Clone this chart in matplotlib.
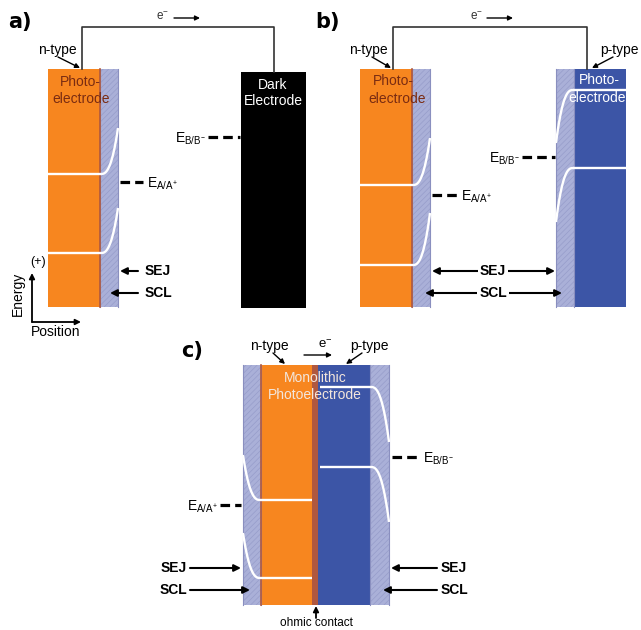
import matplotlib.pyplot as plt
from matplotlib.patches import Rectangle
import numpy as np

plt.rcParams['font.family'] = ['Liberation Sans', 'DejaVu Sans']
plt.rcParams['mathtext.fontset'] = 'custom'
plt.rcParams['mathtext.rm'] = 'Liberation Sans'
plt.rcParams['mathtext.it'] = 'Liberation Sans'
plt.rcParams['hatch.linewidth'] = 0.5

ORANGE = '#f7861f'
BLUE = '#3c55a6'
SCL_FILL = '#aab0d8'
SCL_HATCH = '#969cca'
CONTACT = '#b0583f'

# layers (x0, x1, y0, y1, kind) in picture coordinates
layers_a = [(48, 100, 69, 307, 'n'), (100, 118, 69, 307, 'scl'), (241, 306, 72, 308, 'dark')]
layers_b = [(360, 412, 69, 307, 'n'), (412, 430, 69, 307, 'scl'),
            (556, 574, 69, 307, 'scl'), (574, 626, 69, 307, 'p')]
layers_c = [(243, 261, 365, 605, 'scl'), (261, 312, 365, 605, 'n'), (312, 318, 365, 605, 'ohm'),
            (318, 370, 365, 605, 'p'), (370, 389, 365, 605, 'scl')]

# band edges: (flat start, bend start, bend end, flat level, level at surface)
bands = [(48, 101, 118, 174, 128), (48, 101, 118, 253, 208),
         (360, 413, 430, 185, 138), (360, 413, 430, 265, 213),
         (626, 573, 556, 90, 143), (626, 573, 556, 168, 222),
         (312, 260, 243, 500, 455), (312, 260, 243, 578, 533),
         (320, 371, 389, 387, 442), (320, 371, 389, 467, 522)]

# redox levels: (x0, x1, y, label, label x, align)
redox = [(120, 143, 182, r'$\mathregular{E_{A/A^{+}}}$', 147, 'left'),
         (208, 240, 137, r'$\mathregular{E_{B/B^{-}}}$', 206, 'right'),
         (432, 457, 195, r'$\mathregular{E_{A/A^{+}}}$', 461, 'left'),
         (522, 555, 157, r'$\mathregular{E_{B/B^{-}}}$', 520, 'right'),
         (392, 417, 457, r'$\mathregular{E_{B/B^{-}}}$', 423, 'left'),
         (220, 241, 505, r'$\mathregular{E_{A/A^{+}}}$', 218, 'right')]

fig = plt.figure(figsize=(6.41, 6.30), dpi=100)
ax = fig.add_axes([0, 0, 1, 1])
ax.set_xlim(0, 641)
ax.set_ylim(630, 0)
ax.axis('off')


def draw_layer(x0, x1, y0, y1, kind):
    if kind == 'scl':
        ax.add_patch(Rectangle((x0, y0), x1 - x0, y1 - y0, facecolor=SCL_FILL,
                               edgecolor=SCL_HATCH, hatch='//////', lw=0))
        ax.plot([x0, x0], [y0, y1], color='#8a8fbf', lw=0.8)
        ax.plot([x1, x1], [y0, y1], color='#8a8fbf', lw=0.8)
    else:
        col = {'n': ORANGE, 'p': BLUE, 'dark': 'black', 'ohm': CONTACT}[kind]
        ax.add_patch(Rectangle((x0, y0), x1 - x0, y1 - y0, facecolor=col, lw=0))


for lay in layers_a + layers_b + layers_c:
    draw_layer(*lay)

# brownish junction lines between orange and SCL
for x, y0, y1 in [(100, 69, 307), (412, 69, 307), (261, 365, 605)]:
    ax.plot([x, x], [y0, y1], color=CONTACT, lw=1.2)

for xf, xs, xe, yf, ye in bands:
    t = np.linspace(0, 1, 60)
    xc = xs + (xe - xs) * t
    yc = yf + (ye - yf) * t ** 2.5
    ax.plot(np.r_[xf, xc], np.r_[yf, yc], color='white', lw=1.7, solid_capstyle='butt')

for x0, x1, y, lab, lx, ha in redox:
    ax.plot([x0, x1], [y, y], color='black', lw=2.3, dashes=(3, 1.6))
    ax.text(lx, y + 2, lab, fontsize=10, ha=ha, va='center')

# external wires
for xl, xr, yl, yr in [(82, 274, 69, 72), (393, 587, 69, 69)]:
    ax.plot([xl, xl, xr, xr], [yl, 27, 27, yr], color='#333333', lw=1.2)


def arrow(x0, y0, x1, y1, style='-|>', lw=1.5, ms=10):
    ax.annotate('', xy=(x1, y1), xytext=(x0, y0),
                arrowprops=dict(arrowstyle=style, color='black', lw=lw,
                                mutation_scale=ms, shrinkA=0, shrinkB=0))


# electron flow labels
for ex, ax0, ax1, ey in [(163, 174, 200, 18), (477, 487, 513, 18)]:
    ax.text(ex, ey, r'$\mathregular{e^{-}}$', fontsize=8.5, ha='center', va='center', color='#333333')
    arrow(ax0, ey, ax1, ey, lw=1.0, ms=7)
ax.text(325, 345, r'$\mathregular{e^{-}}$', fontsize=9.5, ha='center', va='center')
arrow(304, 355, 332, 355, lw=1.0, ms=7)

# type labels
for tx, ty, lab, a0, a1 in [(57, 50, 'n-type', (58, 57), (80, 68)),
                            (368, 50, 'n-type', (372, 57), (391, 68)),
                            (619, 50, 'p-type', (613, 57), (592, 68)),
                            (269, 346, 'n-type', (273, 353), (285, 364)),
                            (369, 346, 'p-type', (362, 353), (346, 364))]:
    ax.text(tx, ty, lab, fontsize=10, ha='center', va='center')
    arrow(a0[0], a0[1], a1[0], a1[1], lw=1.0, ms=7)

# electrode names
ax.text(80, 82, 'Photo-', fontsize=10, ha='center', va='center', color='#7a2c12')
ax.text(81, 99, 'electrode', fontsize=10, ha='center', va='center', color='#7a2c12')
ax.text(393, 81, 'Photo-', fontsize=10, ha='center', va='center', color='#7a2c12')
ax.text(397, 99, 'electrode', fontsize=10, ha='center', va='center', color='#7a2c12')
ax.text(599, 80, 'Photo-', fontsize=10, ha='center', va='center', color='white')
ax.text(597, 98, 'electrode', fontsize=10, ha='center', va='center', color='white')
ax.text(273, 85, 'Dark', fontsize=10, ha='center', va='center', color='white')
ax.text(273, 101, 'Electrode', fontsize=10, ha='center', va='center', color='white')
ax.text(315, 378, 'Monolithic', fontsize=10, ha='center', va='center', color='#f3e6dc')
ax.text(315, 395, 'Photoelectrode', fontsize=10, ha='center', va='center', color='#f3e6dc')

# SEJ / SCL pointers
bold = dict(fontsize=10, fontweight='bold', va='center')
arrow(138, 271, 120, 271)
ax.text(145, 271, 'SEJ', ha='left', **bold)
arrow(138, 293, 110, 293)
ax.text(145, 293, 'SCL', ha='left', **bold)

arrow(432, 271, 555, 271, style='<|-|>')
ax.text(493, 271, 'SEJ', ha='center', bbox=dict(facecolor='white', edgecolor='none', pad=1.5), **bold)
arrow(425, 293, 562, 293, style='<|-|>')
ax.text(493, 293, 'SCL', ha='center', bbox=dict(facecolor='white', edgecolor='none', pad=1.5), **bold)

arrow(190, 568, 241, 568)
ax.text(187, 568, 'SEJ', ha='right', **bold)
arrow(190, 590, 250, 590)
ax.text(187, 590, 'SCL', ha='right', **bold)
arrow(437, 568, 391, 568)
ax.text(441, 568, 'SEJ', ha='left', **bold)
arrow(437, 590, 383, 590)
ax.text(441, 590, 'SCL', ha='left', **bold)

# ohmic contact
arrow(316, 618, 316, 606, lw=1.3, ms=8)
ax.text(316, 617, 'ohmic contact', fontsize=8.5, ha='center', va='top')

# energy / position axes
arrow(32, 322, 32, 273, lw=1.3, ms=8)
arrow(32, 322, 81, 322, lw=1.3, ms=8)
ax.text(18, 294, 'Energy', fontsize=10, rotation=90, ha='center', va='center')
ax.text(38, 262, '(+)', fontsize=9, ha='center', va='center')
ax.text(56, 332, 'Position', fontsize=10, ha='center', va='center')

# panel labels
for lab, lx, ly in [('a)', 8, 22), ('b)', 315, 22), ('c)', 181, 351)]:
    ax.text(lx, ly, lab, fontsize=15, fontweight='bold', family='DejaVu Sans',
            ha='left', va='center')

fig.savefig('out.png', dpi=100)
